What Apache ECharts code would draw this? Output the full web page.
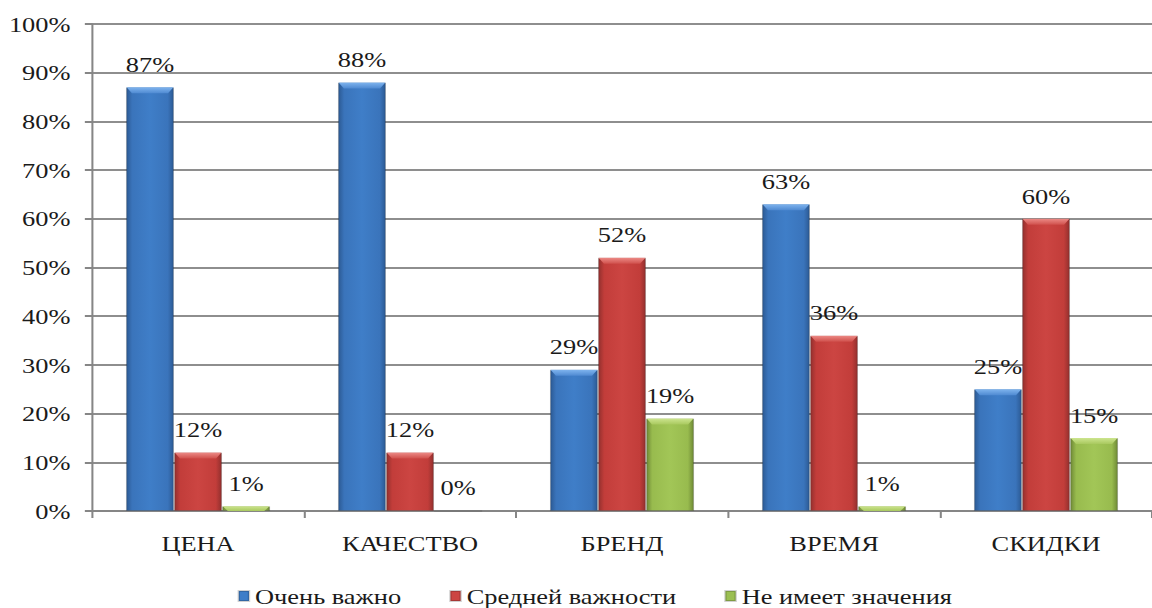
<!DOCTYPE html>
<html>
<head>
<meta charset="utf-8">
<script src="https://cdn.jsdelivr.net/npm/echarts@6/dist/echarts.min.js"></script>
<style>
  html, body { margin: 0; padding: 0; background: #ffffff; overflow: hidden; }
  #wrap { width: 1152px; height: 608px; overflow: hidden; }
  /* the chart is laid out narrower and widened, giving the broad serif lettering */
  #chart { width: 960px; height: 608px; transform: scaleX(1.2); transform-origin: 0 0; }
</style>
</head>
<body>
<div id="wrap"><div id="chart"></div></div>
<script>
// Survey: importance of purchase factors
const categories = ['ЦЕНА', 'КАЧЕСТВО', 'БРЕНД', 'ВРЕМЯ', 'СКИДКИ'];
const seriesNames = ['Очень важно', 'Средней важности', 'Не имеет значения'];
const veryImportant = [87, 88, 29, 63, 25];
const mediumImportant = [12, 12, 52, 36, 60];
const notImportant = [1, 0, 19, 1, 15];
const yTicks = [0, 10, 20, 30, 40, 50, 60, 70, 80, 90, 100];

const FONT = '"Liberation Serif", "Times New Roman", serif';
const TEXT = '#1a1a1a';
const CATEGORY_GAP = 0.32;

// horizontal shading that gives each bar a rounded look
function shade(edge, mid, light) {
  return new echarts.graphic.LinearGradient(0, 0, 1, 0, [
    { offset: 0, color: edge },
    { offset: 0.12, color: mid },
    { offset: 0.5, color: light },
    { offset: 0.88, color: mid },
    { offset: 1, color: edge }
  ]);
}

const palette = [
  shade('#2c5a94', '#3a74bb', '#3f7ec8'),
  shade('#93302e', '#c23d3a', '#cc4542'),
  shade('#6f8a36', '#98bb4e', '#a2c657')
];
const bevelColors = [
  ['#7fb4ee', '#4f8ad2'],
  ['#ec8a86', '#d0504c'],
  ['#cde58f', '#a9c95f']
];
const legendColors = ['#3f7ec8', '#cc4542', '#9bbf52'];

function makeSeries(name, data, idx) {
  return {
    name: name,
    type: 'bar',
    data: data,
    barGap: '0%',
    barCategoryGap: (CATEGORY_GAP * 100) + '%',
    itemStyle: {
      color: palette[idx],
      borderColor: 'rgba(0,0,0,0.18)',
      borderWidth: 1
    },
    label: {
      show: true,
      position: 'top',
      distance: 12,
      formatter: '{c}%',
      fontFamily: FONT,
      fontSize: 22,
      color: TEXT
    }
  };
}

// bevelled cap drawn on top of each bar of series idx
function makeBevel(data, idx) {
  return {
    type: 'custom',
    silent: true,
    z: 3,
    data: data.map((v, i) => [i, v]),
    renderItem: function (params, api) {
      const top = api.coord([api.value(0), api.value(1)]);
      const base = api.coord([api.value(0), 0]);
      const band = api.size([1, 0])[0];
      const w = band * (1 - CATEGORY_GAP) / 3;
      const x0 = top[0] - 1.5 * w + idx * w;
      const h = base[1] - top[1];
      if (h < 1) return null;
      const by = Math.min(6, h);
      const bx = Math.min(5, by);
      return {
        type: 'polygon',
        shape: {
          points: [
            [x0 + 0.5, top[1]],
            [x0 + w - 0.5, top[1]],
            [x0 + w - bx, top[1] + by],
            [x0 + bx, top[1] + by]
          ]
        },
        style: {
          fill: new echarts.graphic.LinearGradient(0, 0, 0, 1, [
            { offset: 0, color: bevelColors[idx][0] },
            { offset: 1, color: bevelColors[idx][1] }
          ])
        }
      };
    }
  };
}

const chart = echarts.init(document.getElementById('chart'), null, { renderer: 'svg' });
chart.setOption({
  backgroundColor: '#ffffff',
  animation: false,
  textStyle: { fontFamily: FONT },
  grid: { left: 76.7, right: -5.7, top: 24, bottom: 97, containLabel: false },
  legend: {
    bottom: -4,
    left: 193,
    icon: 'rect',
    itemWidth: 8.5,
    itemHeight: 10,
    itemGap: 40,
    data: seriesNames.map((n, i) => ({ name: n, itemStyle: { color: legendColors[i] } })),
    textStyle: { fontFamily: FONT, fontSize: 22, color: TEXT }
  },
  xAxis: {
    type: 'category',
    data: categories,
    axisLine: { lineStyle: { color: '#868686', width: 2 } },
    axisTick: { show: true, length: 7, lineStyle: { color: '#868686', width: 1.7 } },
    axisLabel: { fontFamily: FONT, fontSize: 22, color: TEXT, margin: 21 }
  },
  yAxis: {
    type: 'value',
    min: yTicks[0],
    max: yTicks[yTicks.length - 1],
    interval: yTicks[1] - yTicks[0],
    axisLine: { show: true, lineStyle: { color: '#868686', width: 1.7 } },
    axisTick: { show: true, length: 6, lineStyle: { color: '#868686', width: 2 } },
    axisLabel: { fontFamily: FONT, fontSize: 22, color: TEXT, margin: 18, formatter: '{value}%' },
    splitLine: { lineStyle: { color: '#8e8e8e', width: 2 } }
  },
  series: [
    makeSeries(seriesNames[0], veryImportant, 0),
    makeSeries(seriesNames[1], mediumImportant, 1),
    makeSeries(seriesNames[2], notImportant, 2),
    makeBevel(veryImportant, 0),
    makeBevel(mediumImportant, 1),
    makeBevel(notImportant, 2)
  ]
});
</script>
</body>
</html>
